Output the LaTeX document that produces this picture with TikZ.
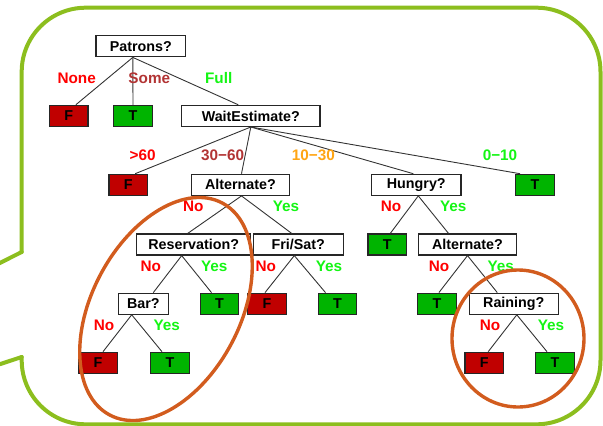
\documentclass[tikz,border=0pt]{standalone}
\usepackage{fontspec}
\setmainfont{Liberation Sans}
\definecolor{cred}{RGB}{192,0,0}
\definecolor{cgreen}{RGB}{0,180,0}
\definecolor{lred}{RGB}{255,0,0}
\definecolor{lbrown}{RGB}{178,52,52}
\definecolor{lgreen}{RGB}{20,245,20}
\definecolor{lorange}{RGB}{255,165,20}
\definecolor{frame}{RGB}{140,190,30}
\definecolor{ring}{RGB}{210,92,30}
\begin{document}
\begin{tikzpicture}[x=1pt,y=-1pt,
  box/.style={draw=black!85, line width=1.2pt, fill=white, inner sep=0pt,
    minimum height=21pt, font=\fontsize{14.3}{16}\selectfont\bfseries},
  fbox/.style={box, fill=cred, minimum width=38.5pt},
  tbox/.style={box, fill=cgreen, minimum width=38.5pt},
  lbl/.style={font=\fontsize{15.3}{17}\selectfont\bfseries, inner sep=0pt},
  edge/.style={draw=black!80, line width=0.9pt},
  greenframe/.style={draw=frame, line width=4pt, line cap=round, line join=round},
  ringline/.style={draw=ring, line width=3.4pt}
]
\useasboundingbox (0,0) rectangle (603,426);
\clip (0,0) rectangle (603,426);

% callout frame
\draw[greenframe, rounded corners=64pt] (21.7,252) -- (21.7,7.7) -- (600.5,7.7) -- (600.5,424.3) -- (21.7,424.3) -- (21.7,357);
\coordinate (pa) at (21.7,252);
\coordinate (pb) at (-30,278);
\coordinate (pc) at (21.7,357);
\coordinate (pd) at (-30,374);
\draw[greenframe] (pa) -- (pb);
\draw[greenframe] (pc) -- (pd);

% nodes
\node[box, minimum width=89.7pt] (patrons) at (140.8,46.3) {Patrons?};
\node[fbox] (f1) at (68.8,115.9) {F};
\node[tbox] (t1) at (133,115.9) {T};
\node[box, minimum width=138.3pt] (wait) at (250.8,115.9) {WaitEstimate?};

\node[fbox] (f2) at (128.2,184.8) {F};
\node[box, minimum width=97.6pt] (alt1) at (240.5,184.8) {Alternate?};
\node[box, minimum width=89.3pt] (hungry) at (416.3,184.8) {Hungry?};
\node[tbox] (t2) at (535,184.8) {T};

\node[box, minimum width=114pt] (res) at (193.7,244.5) {Reservation?};
\node[box, minimum width=90pt] (fri) at (298.3,244.5) {Fri/Sat?};
\node[tbox] (t3) at (387.3,244.5) {T};
\node[box, minimum width=98.4pt] (alt2) at (467.5,244.5) {Alternate?};

\node[box, minimum width=50pt] (bar) at (143.3,303.7) {Bar?};
\node[tbox] (t4) at (219.5,303.7) {T};
\node[fbox] (f3) at (267,303.7) {F};
\node[tbox] (t5) at (337.5,303.7) {T};
\node[tbox] (t6) at (436.9,303.7) {T};
\node[box, minimum width=89pt] (rain) at (513.8,303.7) {Raining?};

\node[fbox] (f4) at (98,362.8) {F};
\node[tbox] (t7) at (170,362.8) {T};
\node[fbox] (f5) at (484.2,362.8) {F};
\node[tbox] (t8) at (555,362.8) {T};

% edges
\begin{scope}[on background layer/.style={}]
\draw[edge] ([xshift=-8pt]patrons.south) -- ([xshift=7pt]f1.north);
\draw[edge] ([xshift=-8pt]patrons.south) -- (t1.north);
\draw[edge] ([xshift=-8pt]patrons.south) -- ([xshift=-12.5pt]wait.north);

\draw[edge] (wait.south) -- ([xshift=7pt]f2.north);
\draw[edge] (wait.south) -- ([xshift=1pt]alt1.north);
\draw[edge] (wait.south) -- ([xshift=-3pt]hungry.north);
\draw[edge] (wait.south) -- ([xshift=-15pt]t2.north);

\draw[edge] ([xshift=1pt]alt1.south) -- ([xshift=-6pt]res.north);
\draw[edge] ([xshift=1pt]alt1.south) -- ([xshift=-6.6pt]fri.north);
\draw[edge] ([xshift=2pt]hungry.south) -- ([xshift=3pt]t3.north);
\draw[edge] ([xshift=2pt]hungry.south) -- ([xshift=-19pt]alt2.north);

\draw[edge] ([xshift=-12pt]res.south) -- ([xshift=10pt]bar.north);
\draw[edge] ([xshift=-12pt]res.south) -- ([xshift=-8pt]t4.north);
\draw[edge] ([xshift=-4pt]fri.south) -- ([xshift=-2pt]f3.north);
\draw[edge] ([xshift=-4pt]fri.south) -- ([xshift=-12pt]t5.north);
\draw[edge] (alt2.south) -- ([xshift=2pt]t6.north);
\draw[edge] (alt2.south) -- ([xshift=-16.5pt]rain.north);

\draw[edge] ([xshift=-11.6pt]bar.south) -- ([xshift=5pt]f4.north);
\draw[edge] ([xshift=-11.6pt]bar.south) -- ([xshift=-8pt]t7.north);
\draw[edge] ([xshift=3pt]rain.south) -- ([xshift=4pt]f5.north);
\draw[edge] ([xshift=3pt]rain.south) -- ([xshift=-8pt]t8.north);
\end{scope}

% labels
\node[lbl, text=lred] (l1) at (76.7,78.3) {None};
\node[lbl, text=lbrown] (l2) at (149.3,78.3) {Some};
\node[lbl, text=lgreen] (l3) at (218.7,78.3) {Full};

\node[lbl, text=lred] (l4) at (142.7,155.3) {>60};
\node[lbl, text=lbrown] (l5) at (222.7,155.3) {30−60};
\node[lbl, text=lorange] (l6) at (313.3,155.3) {10−30};
\node[lbl, text=lgreen] (l7) at (500,155.3) {0−10};

\node[lbl, text=lred] (l8) at (193.3,206) {No};
\node[lbl, text=lgreen] (l9) at (286,206) {Yes};
\node[lbl, text=lred] (l10) at (391,206) {No};
\node[lbl, text=lgreen] (l11) at (453.3,206) {Yes};

\node[lbl, text=lred] (l12) at (150.7,266) {No};
\node[lbl, text=lgreen] (l13) at (214.3,266) {Yes};
\node[lbl, text=lred] (l14) at (265.7,266) {No};
\node[lbl, text=lgreen] (l15) at (329,266) {Yes};
\node[lbl, text=lred] (l16) at (439,266) {No};
\node[lbl, text=lgreen] (l17) at (500.7,266) {Yes};

\node[lbl, text=lred] (l18) at (104,325.7) {No};
\node[lbl, text=lgreen] (l19) at (166.7,325.7) {Yes};
\node[lbl, text=lred] (l20) at (490,325.7) {No};
\node[lbl, text=lgreen] (l21) at (551,325.7) {Yes};

% rings
\draw[ringline, rotate around={62:(166,309)}] (166,309) ellipse [x radius=120pt, y radius=74pt];
\draw[ringline] (518,338.5) ellipse [x radius=66pt, y radius=68.5pt];
\end{tikzpicture}
\end{document}
